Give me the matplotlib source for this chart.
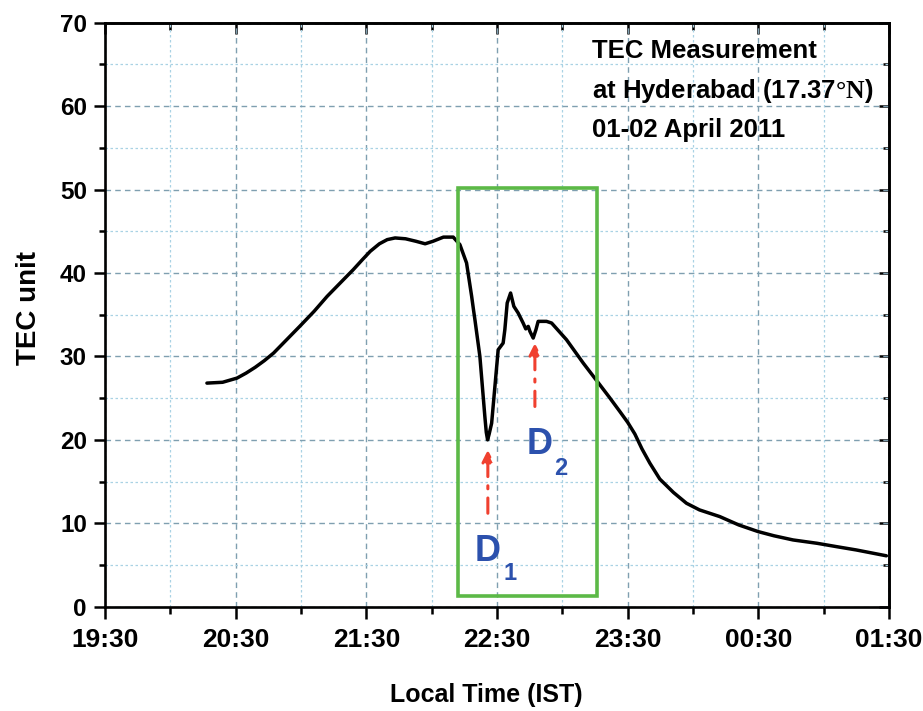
import matplotlib
matplotlib.use("Agg")
import matplotlib.pyplot as plt
import numpy as np
from matplotlib.patches import Rectangle
from matplotlib.ticker import FixedLocator, FuncFormatter, MultipleLocator

plt.rcParams["font.family"] = ["Liberation Sans", "DejaVu Sans"]
plt.rcParams["font.weight"] = "bold"
plt.rcParams["mathtext.fontset"] = "custom"
plt.rcParams["mathtext.rm"] = "Liberation Serif"

# TEC over Hyderabad, local time in decimal hours (after midnight > 24)
time_h = [20.28, 20.40, 20.51, 20.58, 20.65, 20.72, 20.79, 20.89, 20.99, 21.10,
          21.20, 21.30, 21.40, 21.47, 21.53, 21.60, 21.66, 21.72, 21.80, 21.88,
          21.95, 22.01, 22.09, 22.165, 22.216, 22.267, 22.306, 22.320, 22.331, 22.369,
          22.407, 22.418, 22.428, 22.440, 22.459, 22.484, 22.509, 22.547, 22.560, 22.578,
          22.604, 22.629, 22.662, 22.700, 22.720, 22.739, 22.752, 22.777, 22.798, 22.815,
          22.879, 22.918, 23.032, 23.160, 23.287, 23.36, 23.44, 23.50, 23.555, 23.61,
          23.67, 23.746, 23.85, 23.95, 24.05, 24.205, 24.35, 24.499, 24.62, 24.766,
          24.95, 25.098, 25.25, 25.48]
tec = [26.8, 26.9, 27.4, 28.0, 28.7, 29.5, 30.4, 32.0, 33.6, 35.4,
       37.2, 38.8, 40.4, 41.6, 42.6, 43.5, 44.0, 44.2, 44.1, 43.8,
       43.5, 43.8, 44.3, 44.3, 43.4, 41.2, 37.2, 35.6, 34.4, 30.0,
       22.8, 20.9, 20.0, 20.7, 22.0, 26.4, 30.8, 31.6, 33.2, 36.4,
       37.6, 36.0, 35.2, 34.0, 33.3, 33.6, 33.0, 32.2, 33.2, 34.2,
       34.2, 34.0, 32.0, 29.2, 26.6, 25.1, 23.4, 22.1, 20.7, 18.9,
       17.2, 15.3, 13.7, 12.4, 11.6, 10.8, 9.8, 9.0, 8.5, 8.0,
       7.6, 7.2, 6.8, 6.1]

# depletion markers
dep_names = ["1", "2"]
dep_time = [22.43, 22.79]
dep_tip = [18.8, 31.6]
dep_tail = [11.2, 24.0]
dep_label_xy = [(22.425, 6.6), (22.828, 19.4)]
dep_sub_xy = [(22.599, 4.0), (22.989, 16.6)]

box_t = (22.203, 23.267)
box_v = (1.3, 50.2)

x_major = np.arange(19.5, 25.51, 1.0)
x_minor = np.arange(20.0, 25.51, 1.0)


def hhmm(h, pos=None):
    hh = int(np.floor(h + 1e-6)) % 24
    mm = int(round((h - np.floor(h + 1e-6)) * 60))
    return f"{hh:02d}:{mm:02d}"


fig = plt.figure(figsize=(9.23, 7.11), dpi=100)
ax = fig.add_axes([105 / 923, 1 - 606.7 / 711, 784 / 923, 584 / 711])

ax.plot(time_h, tec, color="black", lw=2.5, zorder=4,
        solid_capstyle="round", solid_joinstyle="round")

ax.add_patch(Rectangle((box_t[0], box_v[0]), box_t[1] - box_t[0], box_v[1] - box_v[0],
                       fill=False, ec="#5cb947", lw=2.6, zorder=5))

for t, tip, tail in zip(dep_time, dep_tip, dep_tail):
    ax.annotate("", xy=(t, tip), xytext=(t, tail),
                arrowprops=dict(arrowstyle="-|>,head_length=0.7,head_width=0.35",
                                color="#f0402f", lw=2.2, linestyle=(0, (5, 3, 1, 3)),
                                shrinkA=0, shrinkB=0), zorder=6)

for n, (lx, ly), (sx, sy) in zip(dep_names, dep_label_xy, dep_sub_xy):
    ax.text(lx, ly, "D", color="#2c51ad", fontsize=26, fontweight="heavy",
            ha="center", va="center", zorder=6)
    ax.text(sx, sy, n, color="#2c51ad", fontsize=17, fontweight="heavy",
            ha="center", va="center", zorder=6)

ax.text(23.224, 65.8, "TEC Measurement", fontsize=18.5, fontweight="bold", va="baseline")
ax.text(23.224, 61.0, r"at Hyderabad (17.37$\mathrm{°N}$)", fontsize=18.5,
        fontweight="bold", va="baseline")
ax.text(23.224, 56.3, "01-02 April 2011", fontsize=18.5, fontweight="bold", va="baseline")

ax.set_xlim(19.5, 25.5)
ax.set_ylim(0, 70)
ax.xaxis.set_major_locator(FixedLocator(x_major))
ax.xaxis.set_minor_locator(FixedLocator(x_minor))
ax.xaxis.set_major_formatter(FuncFormatter(hhmm))
ax.yaxis.set_major_locator(MultipleLocator(10))
ax.yaxis.set_minor_locator(MultipleLocator(5))

ax.grid(which="major", color="#7f9fb0", lw=1.0, linestyle=(0, (4, 3)), zorder=1)
ax.grid(which="minor", color="#a9d2e4", lw=0.9, linestyle=(0, (2, 2)), zorder=1)
ax.set_axisbelow(True)

for s in ax.spines.values():
    s.set_linewidth(1.9)

ax.tick_params(axis="x", which="major", direction="out", length=8.5, width=1.8,
               labelsize=19, pad=7)
ax.tick_params(axis="x", which="minor", direction="out", length=5, width=1.8)
ax.tick_params(axis="y", which="major", direction="out", length=8, width=1.8,
               labelsize=17.5, pad=5)
ax.tick_params(axis="y", which="minor", direction="out", length=4.5, width=1.8)

top = ax.secondary_xaxis("top")
top.xaxis.set_major_locator(FixedLocator(x_major))
top.xaxis.set_minor_locator(FixedLocator(x_minor))
top.tick_params(which="major", direction="in", length=8, width=1.8, labeltop=False)
top.tick_params(which="minor", direction="in", length=5, width=1.8)
top.spines["top"].set_linewidth(1.9)

right = ax.secondary_yaxis("right")
right.yaxis.set_major_locator(MultipleLocator(10))
right.yaxis.set_minor_locator(MultipleLocator(5))
right.tick_params(which="major", direction="in", length=7.5, width=1.8, labelright=False)
right.tick_params(which="minor", direction="in", length=4, width=1.8)
right.spines["right"].set_linewidth(1.9)

ax.set_xlabel("Local Time (IST)", fontsize=18, fontweight="bold")
ax.xaxis.set_label_coords(0.487, -0.13)
ax.set_ylabel("TEC unit", fontsize=20, fontweight="bold")
ax.yaxis.set_label_coords(-0.08, 0.512)

fig.savefig("out.png", dpi=100)
